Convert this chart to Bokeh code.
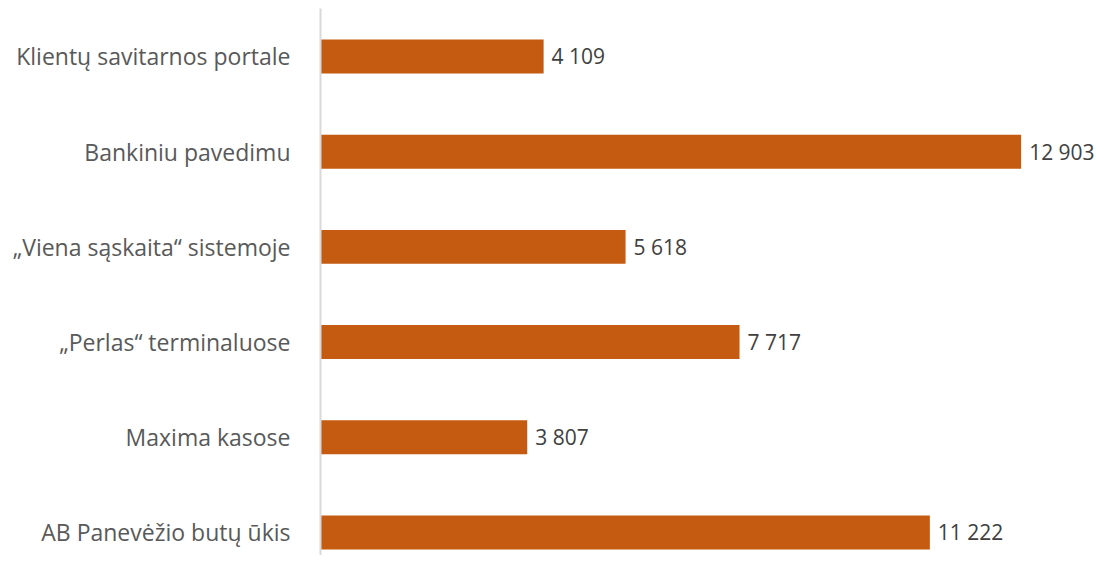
from bokeh.plotting import figure
from bokeh.models import ColumnDataSource, Range1d, FixedTicker
from bokeh.core.properties import value
from bokeh.embed import file_html
from bokeh.resources import INLINE

categories = [
    "Klientų savitarnos portale",
    "Bankiniu pavedimu",
    "„Viena sąskaita“ sistemoje",
    "„Perlas“ terminaluose",
    "Maxima kasose",
    "AB Panevėžio butų ūkis",
]
values = [4109, 12903, 5618, 7717, 3807, 11222]

positions = list(range(len(categories)))
labels = [f"{v:,}".replace(",", " ") for v in values]

src = ColumnDataSource(dict(y=positions, v=values, lab=labels))

FONT = "Open Sans"

p = figure(
    width=1103, height=555,
    output_backend="svg", toolbar_location=None,
    x_range=Range1d(0, 14420),
    y_range=Range1d(start=5.242, end=-0.504),
    x_axis_location=None,
    min_border_left=320, min_border_right=0, min_border_top=8, min_border_bottom=0,
)
p.outline_line_color = None
p.xgrid.visible = False
p.ygrid.visible = False

p.hbar(y="y", right="v", left=0, height=0.357, source=src,
       fill_color="#C55A11", line_color=None)

p.text(x="v", y="y", text="lab", source=src, x_offset=8,
       text_baseline="middle", text_align="left",
       text_font=value(FONT), text_font_size="21px", text_color="#404040")

ax = p.yaxis[0]
ax.ticker = FixedTicker(ticks=positions)
ax.major_label_overrides = {i: c for i, c in zip(positions, categories)}
ax.major_tick_line_color = None
ax.minor_tick_line_color = None
ax.axis_line_color = "#d9d9d9"
ax.axis_line_width = 2
ax.major_label_standoff = 24
ax.major_label_text_font = FONT
ax.major_label_text_font_size = "23px"
ax.major_label_text_color = "#595959"

open("out.html", "w").write(file_html(p, INLINE))
